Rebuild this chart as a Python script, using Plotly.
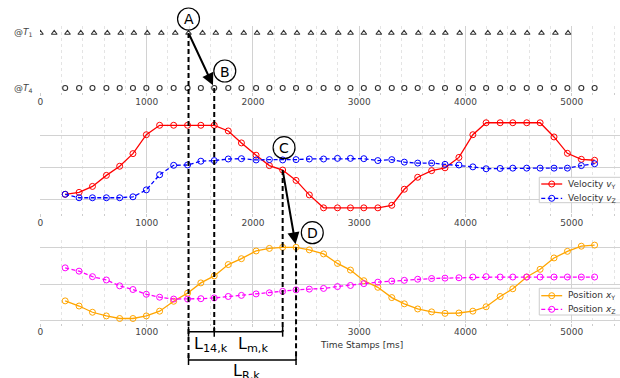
import plotly.graph_objects as go

# ---------------- data ----------------
t1_times = [0, 130, 255, 380, 505, 630, 756, 880, 1006, 1138, 1269, 1394, 1526, 1651,
            1776, 1914, 2039, 2164, 2289, 2415, 2546, 2665, 2803, 2919, 3044, 3185, 3303,
            3423, 3557, 3692, 3811, 3946, 4073, 4211, 4327, 4449, 4581, 4716, 4847, 4966]
t4_times = [233, 364, 490, 621, 746, 871, 997, 1122, 1254, 1385, 1510, 1636, 1768, 1892,
            2030, 2155, 2280, 2406, 2531, 2665, 2796, 2918, 3044, 3176, 3307, 3425, 3551,
            3682, 3808, 3939, 4070, 4195, 4327, 4446, 4577, 4703, 4834, 4960, 5091, 5216]
vel_y = [0.15, 0.21, 0.40, 0.75, 1.04, 1.44, 2.04, 2.34, 2.34, 2.34, 2.34, 2.34, 2.16, 1.78,
         1.39, 1.06, 0.92, 0.59, 0.13, -0.28, -0.28, -0.28, -0.28, -0.28, -0.20, 0.31, 0.69,
         0.90, 0.99, 1.32, 2.04, 2.42, 2.42, 2.42, 2.42, 2.42, 1.97, 1.45, 1.26, 1.23]
vel_z = [0.15, 0.04, 0.04, 0.04, 0.04, 0.07, 0.29, 0.77, 1.07, 1.08, 1.20, 1.22, 1.27, 1.28,
         1.24, 1.25, 1.24, 1.25, 1.27, 1.27, 1.29, 1.29, 1.28, 1.22, 1.25, 1.17, 1.14,
         1.14, 1.10, 1.08, 1.02, 0.96, 0.97, 0.98, 0.98, 0.98, 0.98, 0.98, 1.06, 1.12]
pos_y = [-0.46, -0.60, -0.77, -0.87, -0.94, -0.94, -0.87, -0.74, -0.47, -0.25, 0.03, 0.22,
         0.53, 0.69, 0.90, 0.97, 1.00, 1.00, 0.93, 0.82, 0.56, 0.38, 0.09, -0.09, -0.37,
         -0.54, -0.68, -0.76, -0.80, -0.79, -0.74, -0.62, -0.34, -0.13, 0.19, 0.40, 0.71,
         0.89, 1.03, 1.06]
pos_z = [0.44, 0.35, 0.20, 0.11, -0.05, -0.15, -0.28, -0.36, -0.41, -0.41, -0.40, -0.38,
         -0.34, -0.31, -0.27, -0.24, -0.20, -0.16, -0.14, -0.12, -0.07, -0.04, 0.01, 0.05,
         0.08, 0.10, 0.13, 0.15, 0.16, 0.17, 0.19, 0.20, 0.19, 0.19, 0.19, 0.19, 0.19,
         0.19, 0.19, 0.19]
tick_values = [0, 1000, 2000, 3000, 4000, 5000]
tick_text_full = ["0", "1000", "2000", "3000", "4000", "5000"]
tick_text_bottom = ["0", "1000", "", "3000", "4000", "5000"]   # 2000 hidden by the brackets
row_levels = {"T1": 1, "T4": 0}
idx_A, idx_B, idx_C, idx_D = 11, 11, 16, 17   # indices of the annotated samples

# ---------------- layout geometry ----------------
W, H = 620, 378
XL, XR = 38, 620
XRANGE = [-5, 5455]
PANELS = {1: (26, 92, [-0.0727, 1.127]),
          2: (118, 213, [-0.444, 2.571]),
          3: (240, 322.5, [-1.049, 1.199])}
FONT = "DejaVu Sans"
GRID = "#d2d2d2"
MINOR = "#e4e4e4"


def px_x(v):
    return XL + (v - XRANGE[0]) / (XRANGE[1] - XRANGE[0]) * (XR - XL)


def px_y(p, v):
    top, bot, (r0, r1) = PANELS[p]
    return bot - (v - r0) / (r1 - r0) * (bot - top)


def fx(px):
    return px / W


def fy(py):
    return 1 - py / H


fig = go.Figure()

# top panel: time stamps
fig.add_trace(go.Scatter(x=t1_times, y=[row_levels["T1"]] * len(t1_times), mode="markers",
                         marker=dict(symbol="triangle-up-open", size=5, color="#333",
                                     line=dict(width=1.1)),
                         xaxis="x", yaxis="y", showlegend=False))
fig.add_trace(go.Scatter(x=t4_times, y=[row_levels["T4"]] * len(t4_times), mode="markers",
                         marker=dict(symbol="circle-open", size=5, color="#333",
                                     line=dict(width=1.1)),
                         xaxis="x", yaxis="y", showlegend=False))

series = [
    (vel_y, "#ff0000", "solid", "x2", "y2"),
    (vel_z, "#0000ff", "4px,2.5px", "x2", "y2"),
    (pos_y, "#ffa500", "solid", "x3", "y3"),
    (pos_z, "#ff00ff", "4px,2.5px", "x3", "y3"),
]
for vals, col, dash, xa, ya in series:
    fig.add_trace(go.Scatter(x=t4_times, y=vals, mode="lines+markers",
                             line=dict(color=col, width=1.3, dash=dash),
                             marker=dict(symbol="circle-open", size=6, color=col,
                                         line=dict(width=1)),
                             xaxis=xa, yaxis=ya, showlegend=False))

layout = dict(width=W, height=H, margin=dict(l=0, r=0, t=0, b=0),
              paper_bgcolor="white", plot_bgcolor="white",
              font=dict(family=FONT, size=9, color="#444"), showlegend=False)
for i in (1, 2, 3):
    top, bot, yr = PANELS[i]
    sx = "" if i == 1 else str(i)
    layout["xaxis" + sx] = dict(
        domain=[XL / W, XR / W], range=XRANGE, anchor="y" + sx,
        tickvals=tick_values, ticktext=(tick_text_bottom if i == 3 else tick_text_full),
        ticks="outside", ticklen=3, tickcolor="#cccccc", ticklabelstandoff=-2,
        tickfont=dict(size=9, color="#444"), showgrid=True, gridcolor=GRID, gridwidth=1,
        zeroline=False, showline=False,
        minor=dict(dtick=200, tick0=0, showgrid=True, gridcolor=MINOR, griddash="dot",
                   ticks="outside", ticklen=2, tickcolor="#cccccc"))
    layout["yaxis" + sx] = dict(
        domain=[fy(bot), fy(top)], range=yr, anchor="x" + sx, showticklabels=False,
        showgrid=(i > 1), gridcolor=GRID, gridwidth=1, dtick=1, tick0=0,
        zeroline=False, ticks="")
fig.update_layout(**layout)

shapes = []
annots = []

# key points
xA, xB, xC, xD = t1_times[idx_A], t4_times[idx_B], t4_times[idx_C], t4_times[idx_D]
pA = (px_x(xA), px_y(1, row_levels["T1"]))
pB = (px_x(xB), px_y(1, row_levels["T4"]))
pC = (px_x(xC), px_y(2, vel_y[idx_C]))
pD = (px_x(xD), px_y(3, pos_y[idx_D]))

BR1, BR2 = 331.7, 360.0   # bracket levels (px)
DASH = dict(color="black", width=2, dash="5px,3px")
for xv, ystart, yend in [(xA, pA[1], BR2), (xB, pB[1], BR1), (xC, pC[1], BR1), (xD, pD[1], BR2)]:
    shapes.append(dict(type="line", xref="x", yref="paper", x0=xv, x1=xv,
                       y0=fy(ystart), y1=fy(yend), line=DASH))

SOLID = dict(color="black", width=1.5)
for (xa, xb, lvl) in [(xA, xC, BR1), (xA, xD, BR2)]:
    shapes.append(dict(type="line", xref="x", yref="paper", x0=xa, x1=xb,
                       y0=fy(lvl), y1=fy(lvl), line=SOLID))
for xv, lvl in [(xA, BR1), (xB, BR1), (xC, BR1), (xA, BR2), (xD, BR2)]:
    shapes.append(dict(type="line", xref="x", yref="paper", x0=xv, x1=xv,
                       y0=fy(lvl - 5), y1=fy(lvl + 5), line=SOLID))

# lettered circles
R = 11
for letter, (px, py), (dx, dy) in [("A", pA, (0, -14)), ("B", pB, (10.6, -17)),
                                    ("C", pC, (1.4, -22.3)), ("D", pD, (16.3, -14.6))]:
    cx, cy = px + dx, py + dy
    shapes.append(dict(type="circle", xref="paper", yref="paper",
                       x0=fx(cx - R), x1=fx(cx + R), y0=fy(cy + R), y1=fy(cy - R),
                       line=dict(color="black", width=1.2), fillcolor="rgba(0,0,0,0)"))
    annots.append(dict(xref="paper", yref="paper", x=fx(cx), y=fy(cy + 0.5), text=letter,
                       showarrow=False, xanchor="center", yanchor="middle",
                       font=dict(size=14, color="black", family=FONT)))

# arrows
annots.append(dict(xref="x", yref="y", x=xB, y=row_levels["T4"], axref="x", ayref="y",
                   ax=xA, ay=row_levels["T1"], text="", showarrow=True, arrowhead=2,
                   arrowsize=1.2, arrowwidth=2, arrowcolor="black", standoff=3))
annots.append(dict(xref="x3", yref="y3", x=xD, y=pos_y[idx_D], axref="pixel", ayref="pixel",
                   ax=pC[0] - pD[0], ay=pC[1] - pD[1], text="", showarrow=True, arrowhead=2,
                   arrowsize=1.2, arrowwidth=2, arrowcolor="black", standoff=3))

# bracket labels
LFONT = dict(size=16, color="black", family=FONT)
annots.append(dict(xref="paper", yref="paper", x=fx(pA[0] + 3), y=fy(344),
                   text="L<sub>14,k</sub>", showarrow=False, xanchor="left",
                   yanchor="middle", font=LFONT))
annots.append(dict(xref="paper", yref="paper", x=fx((pB[0] + pC[0]) / 2 + 5), y=fy(344),
                   text="L<sub>m,k</sub>", showarrow=False, xanchor="center",
                   yanchor="middle", font=LFONT))
annots.append(dict(xref="paper", yref="paper", x=fx((pA[0] + pD[0]) / 2 + 4), y=fy(371),
                   text="L<sub>R,k</sub>", showarrow=False, xanchor="center",
                   yanchor="middle", font=LFONT))

# row labels of the top panel
for lab, lvl in [("@<i>T</i><sub>1</sub>", row_levels["T1"]), ("@<i>T</i><sub>4</sub>", row_levels["T4"])]:
    annots.append(dict(xref="paper", yref="y", x=fx(33), y=lvl, text=lab, showarrow=False,
                       xanchor="right", yanchor="middle", font=dict(size=9, color="#444")))

# x axis title
annots.append(dict(xref="paper", yref="paper", x=fx(361), y=fy(345), text="Time Stamps [ms]",
                   showarrow=False, xanchor="center", yanchor="middle",
                   font=dict(size=9, color="#333")))


# custom compact legends
def add_legend(top, bottom, rows):
    shapes.append(dict(type="rect", xref="paper", yref="paper", x0=fx(539), x1=fx(640),
                       y0=fy(bottom), y1=fy(top), line=dict(color="#cccccc", width=1),
                       fillcolor="rgba(255,255,255,0.85)"))
    for (label, col, dash), ry in rows:
        shapes.append(dict(type="line", xref="paper", yref="paper", x0=fx(541), x1=fx(562),
                           y0=fy(ry), y1=fy(ry), line=dict(color=col, width=1.3, dash=dash)))
        shapes.append(dict(type="circle", xref="paper", yref="paper", x0=fx(548.5),
                           x1=fx(554.5), y0=fy(ry + 3), y1=fy(ry - 3),
                           line=dict(color=col, width=1), fillcolor="rgba(0,0,0,0)"))
        annots.append(dict(xref="paper", yref="paper", x=fx(566), y=fy(ry), text=label,
                           showarrow=False, xanchor="left", yanchor="middle",
                           font=dict(size=9, color="#333")))


add_legend(177.3, 202.7, [(("Velocity <i>v</i><sub>Y</sub>", "#ff0000", "solid"), 184),
                          (("Velocity <i>v</i><sub>Z</sub>", "#0000ff", "4px,2.5px"), 198.3)])
add_legend(288.3, 315, [(("Position <i>x</i><sub>Y</sub>", "#ffa500", "solid"), 295.7),
                        (("Position <i>x</i><sub>Z</sub>", "#ff00ff", "4px,2.5px"), 309.3)])

fig.update_layout(shapes=shapes, annotations=annots)
fig.write_html("out.html", config={"displayModeBar": False},
               post_script="document.body.style.margin='0px';document.body.style.overflow='hidden';")
